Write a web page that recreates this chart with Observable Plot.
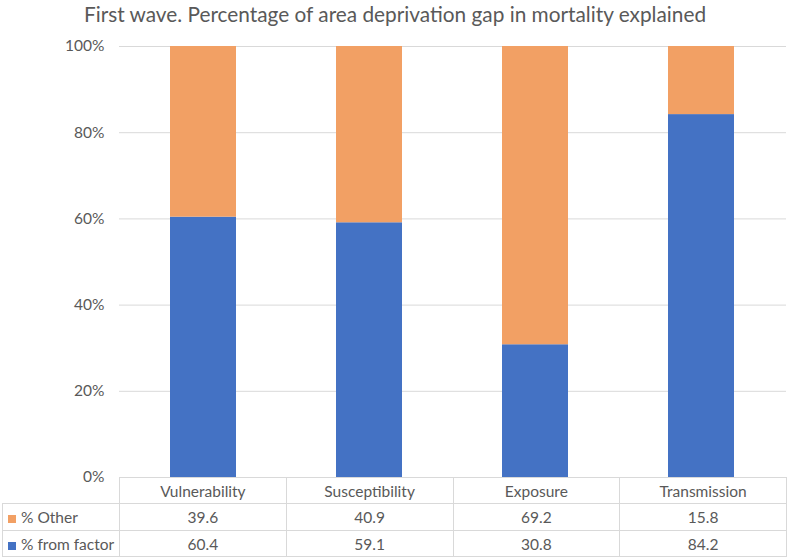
<!DOCTYPE html>
<html>
<head>
<meta charset="utf-8">
<script src="https://cdn.jsdelivr.net/npm/d3@7"></script>
<script src="https://cdn.jsdelivr.net/npm/@observablehq/plot@0.6"></script>
<style>
  body { margin: 0; background: #fff; font-family: Lato, "Open Sans", sans-serif; }
  #wrap { position: relative; width: 790px; height: 559px; overflow: hidden; }
  #title { position: absolute; left: 0; top: 1px; width: 790px; text-align: center; font-size: 20.8px; line-height: normal; color: #595959; }
  #chart { position: absolute; left: 0; top: 0; }
  #tbl { position: absolute; left: 2px; top: 477px; border-collapse: collapse; table-layout: fixed; font-size: 15.5px; color: #595959; }
  #tbl td { border: 1px solid #d9d9d9; text-align: center; padding: 0; white-space: nowrap; }
  #tbl td.lab { text-align: left; padding-left: 5px; }
  #tbl td.blank { border-top: none; border-left: none; }
  .sw { display: inline-block; width: 8px; height: 8px; margin-right: 5px; vertical-align: 0px; }
</style>
</head>
<body>
<div id="wrap">
  <div id="title">First wave. Percentage of area deprivation gap in mortality explained</div>
  <div id="chart"></div>
  <table id="tbl"></table>
</div>
<script>
const categories = ["Vulnerability", "Susceptibility", "Exposure", "Transmission"];
const seriesNames = ["% Other", "% from factor"];
const otherValues = [39.6, 40.9, 69.2, 15.8];
const factorValues = [60.4, 59.1, 30.8, 84.2];
const yTicks = [0, 20, 40, 60, 80, 100];
const colors = { "% Other": "#F2A064", "% from factor": "#4472C4" };

const rows = [];
categories.forEach((c, i) => {
  rows.push({ category: c, series: "% from factor", value: factorValues[i] });
  rows.push({ category: c, series: "% Other", value: otherValues[i] });
});

const plot = Plot.plot({
  width: 790,
  height: 559,
  marginTop: 46,
  marginBottom: 82,
  marginLeft: 119,
  marginRight: 4,
  style: { fontFamily: "Lato, 'Open Sans', sans-serif", fontSize: "15.5px", color: "#595959", background: "transparent" },
  x: { domain: categories, paddingInner: 0.6, paddingOuter: 0.3, axis: null },
  y: { domain: [0, 100], ticks: yTicks, tickFormat: d => d + "%", tickSize: 0, tickPadding: 15, label: null },
  color: { domain: Object.keys(colors), range: Object.values(colors) },
  marks: [
    Plot.ruleY(yTicks, { stroke: "#d9d9d9", strokeWidth: 1 }),
    Plot.barY(rows, { x: "category", y: "value", fill: "series", order: ["% from factor", "% Other"] })
  ]
});
document.getElementById("chart").appendChild(plot);

// data table under the chart
const tbl = document.getElementById("tbl");
const colW = [117, 166.75, 166.75, 166.75, 166.75];
const cg = document.createElement("colgroup");
colW.forEach(w => { const c = document.createElement("col"); c.style.width = w + "px"; cg.appendChild(c); });
tbl.appendChild(cg);
tbl.style.width = colW.reduce((a, b) => a + b, 0) + "px";

const head = document.createElement("tr");
head.style.height = "26px";
const blank = document.createElement("td"); blank.className = "blank"; head.appendChild(blank);
categories.forEach(c => { const td = document.createElement("td"); td.textContent = c; head.appendChild(td); });
tbl.appendChild(head);

[["% Other", otherValues, 27], ["% from factor", factorValues, 26]].forEach(([name, vals, h]) => {
  const tr = document.createElement("tr");
  tr.style.height = h + "px";
  const lab = document.createElement("td"); lab.className = "lab";
  const sw = document.createElement("span"); sw.className = "sw"; sw.style.background = colors[name];
  lab.appendChild(sw); lab.appendChild(document.createTextNode(name));
  tr.appendChild(lab);
  vals.forEach(v => { const td = document.createElement("td"); td.textContent = v.toFixed(1); tr.appendChild(td); });
  tbl.appendChild(tr);
});
</script>
</body>
</html>
